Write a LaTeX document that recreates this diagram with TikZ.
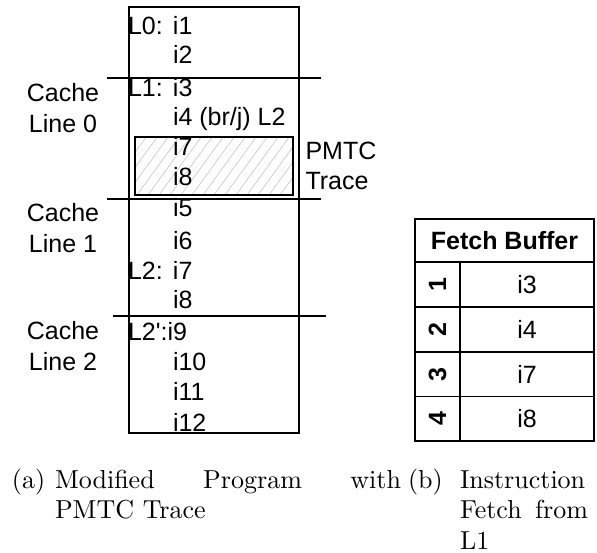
\documentclass[tikz,border=0pt]{standalone}
\usepackage{fontspec}
\newfontfamily\arial{Liberation Sans}
\newfontfamily\capfont{lmroman10-regular.otf}
\begin{document}
\begin{tikzpicture}[x=1pt,y=-1pt,
  every node/.style={inner sep=0pt,outer sep=0pt},
  sans/.style={font=\arial\fontsize{25}{31}\selectfont},
  sansb/.style={font=\arial\bfseries\fontsize{25}{30}\selectfont},
  serif/.style={font=\capfont\fontsize{26}{30.7}\selectfont},
  code/.style={sans,anchor=base west},
  frame/.style={line width=1.8pt},
  hatch/.style={gray!45,line width=0.6pt}]
\useasboundingbox (0,0) rectangle (597,552);

% ---------- (a) program ----------
\draw[frame] (128.7,7) rectangle (299,433);
% PMTC trace box
\begin{scope}
  \clip (135,137.3) rectangle (293,195);
  \foreach \x in {60,71,...,310} \draw[hatch] (\x,195) -- (\x+42,137.3);
\end{scope}
\draw[line width=2.2pt] (135,137.3) rectangle (293,195);

% cache line separators
\coordinate (s1a) at (107,77.7);  \coordinate (s1b) at (321,77.7);
\coordinate (s2a) at (107,199.3); \coordinate (s2b) at (321,199.3);
\coordinate (s3a) at (113,316);   \coordinate (s3b) at (326,316);
\draw[frame] (s1a) -- (s1b);
\draw[frame] (s2a) -- (s2b);
\draw[frame] (s3a) -- (s3b);

\node[code] (l1)  at (128,34)  {\makebox[45pt][l]{L0:}i1};
\node[code] (l2)  at (173,63)  {i2};
\node[code] (l3)  at (128,96)  {\makebox[45pt][l]{L1:}i3};
\node[code] (l4)  at (173,125) {i4 (br/j) L2};
\node[code] (l5)  at (173,155) {i7};
\node[code] (l6)  at (173,185) {i8};
\node[code] (l7)  at (173,216.5) {i5};
\node[code] (l8)  at (173,249) {i6};
\node[code] (l9)  at (128,279) {\makebox[45pt][l]{L2:}i7};
\node[code] (l10) at (173,308) {i8};
\node[code] (l11) at (128,340) {L2':i9};
\node[code] (l12) at (173,370) {i10};
\node[code] (l13) at (173,400) {i11};
\node[code] (l14) at (173,431) {i12};

% multi-line nodes: base anchor = baseline of the last line
\node[sans,align=center,anchor=base] (c0) at (63,132.5) {Cache\\Line 0};
\node[sans,align=center,anchor=base] (c1) at (63,252.5) {Cache\\Line 1};
\node[sans,align=center,anchor=base] (c2) at (63,370)   {Cache\\Line 2};
\node[sans,align=left,anchor=base west,font=\arial\fontsize{25}{30}\selectfont] (pm) at (305.5,189) {PMTC\\Trace};

% ---------- (b) fetch buffer ----------
\draw[frame] (415,219.3) rectangle (594,441);
\draw[frame] (415,262.3) -- (594,262.3);
\draw[frame] (415,307) -- (594,307);
\draw[frame] (415,352) -- (594,352);
\draw[frame] (415,396.5) -- (594,396.5);
\draw[frame] (460,262.3) -- (460,441);
\node[sansb] (fb) at (504.5,240.8) {Fetch Buffer};
\foreach \n/\t/\y in {1/i3/284.7, 2/i4/329.5, 3/i7/374.2, 4/i8/418.7}{
  \node[sansb,rotate=90] (n\n) at (437.5,\y) {\n};
  \node[sans] (e\n) at (527,\y) {\t};
}

% ---------- captions ----------
\node[serif,anchor=base west] (ca) at (12,488) {(a)};
\node[serif,anchor=base west,text width=346pt,align=justify] (cat) at (55,488)
  {Modified\hfill Program\hfill with\\PMTC Trace};
\node[serif,anchor=base west] (cb) at (408,488) {(b)};
\node[serif,anchor=base west,text width=128pt,align=justify] (cbt) at (460,488)
  {Instruction\\Fetch\hfill from\\L1};
\end{tikzpicture}
\end{document}
